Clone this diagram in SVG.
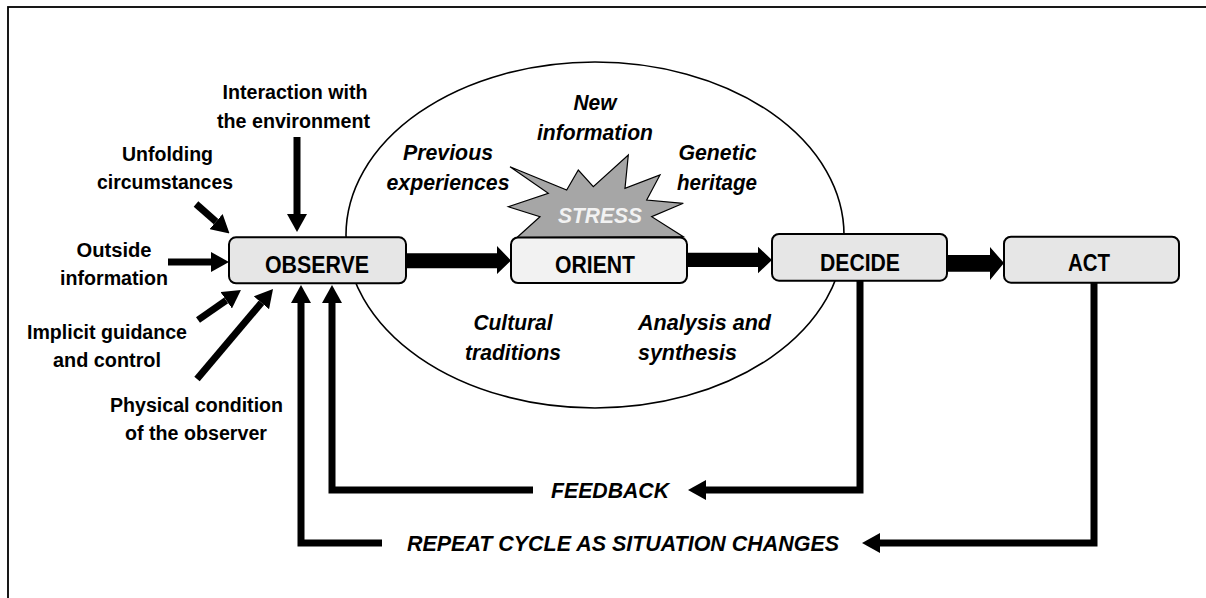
<svg xmlns="http://www.w3.org/2000/svg" width="1206" height="598" viewBox="0 0 1206 598">
<style>
.lbl{font-family:"Liberation Sans",Arial,sans-serif;font-weight:bold;font-size:20px;fill:#000;text-anchor:middle}
.it{font-family:"Liberation Sans",Arial,sans-serif;font-weight:bold;font-style:italic;font-size:22px;fill:#000;text-anchor:middle}
.box{stroke:#000;stroke-width:2}
.bl{font-family:"Liberation Sans",Arial,sans-serif;font-weight:bold;font-size:24px;fill:#000;text-anchor:middle}
.thin{fill:none;stroke:#000;stroke-width:7}
</style>
<defs>
<marker id="ah" viewBox="0 0 18 20" refX="0" refY="10" markerWidth="18" markerHeight="20" markerUnits="userSpaceOnUse" orient="auto">
<path d="M0,0 L18,10 L0,20 z" fill="#000"/>
</marker>
</defs>
<rect x="8" y="7" width="1400" height="800" fill="#fff" stroke="#000" stroke-width="1.8"/>
<g id="orient-ellipse">
<ellipse cx="595" cy="235" rx="249" ry="173" fill="none" stroke="#000" stroke-width="1.6"/>
</g>
<g id="stress">
<polygon points="516.7,237.7 540,216.7 508.3,206.7 548.3,193.3 510,166.7 566.7,190 578.3,170 593.3,186.7 628.3,155 625,188.3 660,175 646.7,200 683.3,203.3 651.7,216.7 683.3,236.7" fill="#a6a6a6" stroke="#000" stroke-width="1.2"/>
<text x="600" y="223" class="it" style="fill:#f2f2f2" textLength="84" lengthAdjust="spacingAndGlyphs">STRESS</text>
</g>
<g id="connectors">
<path class="thin" d="M297,137 V214" marker-end="url(#ah)"/>
<path class="thin" d="M196,204 L216,221.6" marker-end="url(#ah)"/>
<path class="thin" d="M168,262 H211" marker-end="url(#ah)"/>
<path class="thin" d="M198,320 L226.2,300.3" marker-end="url(#ah)"/>
<path class="thin" d="M197,379 L261.4,302.8" marker-end="url(#ah)"/>
<path class="thin" d="M533,490 H332 V303" marker-end="url(#ah)" stroke-linejoin="miter"/>
<path class="thin" d="M382,543 H301 V303" marker-end="url(#ah)"/>
<path class="thin" d="M860,281 V490 H706" marker-end="url(#ah)"/>
<path class="thin" d="M1094,283 V543 H880" marker-end="url(#ah)"/>
<polygon points="406,253.3 497,253.3 497,246 511,260.5 497,274 497,268.3 406,268.3" fill="#000"/>
<polygon points="687,252.7 758,252.7 758,246.7 772,260 758,273.3 758,267 687,267" fill="#000"/>
<polygon points="947,255 990,255 990,247 1004,263 990,280 990,271.7 947,271.7" fill="#000"/>
</g>
<g id="observe">
<rect class="box" x="229" y="237.3" width="177" height="46" rx="7" fill="#e6e6e6"/>
<text class="bl" x="317" y="272.7" textLength="104" lengthAdjust="spacingAndGlyphs">OBSERVE</text>
</g>
<g id="orient">
<rect class="box" x="511" y="237.5" width="176" height="45.5" rx="7" fill="#f2f2f2"/>
<text class="bl" x="595" y="272.7" textLength="80" lengthAdjust="spacingAndGlyphs">ORIENT</text>
</g>
<g id="decide">
<rect class="box" x="772" y="234" width="175" height="46.7" rx="7" fill="#e6e6e6"/>
<text class="bl" x="860" y="270.7" textLength="80" lengthAdjust="spacingAndGlyphs">DECIDE</text>
</g>
<g id="act">
<rect class="box" x="1004" y="236.7" width="175" height="46" rx="7" fill="#e6e6e6"/>
<text class="bl" x="1089" y="270.7" textLength="42" lengthAdjust="spacingAndGlyphs">ACT</text>
</g>
<g id="inputs">
<text class="lbl" x="295" y="99" textLength="145" lengthAdjust="spacingAndGlyphs">Interaction with</text>
<text class="lbl" x="293.5" y="128" textLength="153" lengthAdjust="spacingAndGlyphs">the environment</text>
<text class="lbl" x="167.5" y="161" textLength="91" lengthAdjust="spacingAndGlyphs">Unfolding</text>
<text class="lbl" x="165" y="188.5" textLength="136" lengthAdjust="spacingAndGlyphs">circumstances</text>
<text class="lbl" x="114" y="257" textLength="75" lengthAdjust="spacingAndGlyphs">Outside</text>
<text class="lbl" x="114" y="285" textLength="108" lengthAdjust="spacingAndGlyphs">information</text>
<text class="lbl" x="107" y="338.5" textLength="160" lengthAdjust="spacingAndGlyphs">Implicit guidance</text>
<text class="lbl" x="107" y="367" textLength="108" lengthAdjust="spacingAndGlyphs">and control</text>
<text class="lbl" x="196.5" y="411.5" textLength="173" lengthAdjust="spacingAndGlyphs">Physical condition</text>
<text class="lbl" x="196" y="440" textLength="142" lengthAdjust="spacingAndGlyphs">of the observer</text>
</g>
<g id="orient-factors">
<text class="it" x="595" y="110" textLength="43" lengthAdjust="spacingAndGlyphs">New</text>
<text class="it" x="595" y="140" textLength="116" lengthAdjust="spacingAndGlyphs">information</text>
<text class="it" x="448" y="160" textLength="90" lengthAdjust="spacingAndGlyphs">Previous</text>
<text class="it" x="448" y="190" textLength="123" lengthAdjust="spacingAndGlyphs">experiences</text>
<text class="it" x="717.5" y="160" textLength="78" lengthAdjust="spacingAndGlyphs">Genetic</text>
<text class="it" x="717" y="190" textLength="80" lengthAdjust="spacingAndGlyphs">heritage</text>
<text class="it" x="513" y="330" textLength="79" lengthAdjust="spacingAndGlyphs">Cultural</text>
<text class="it" x="513" y="360" textLength="96" lengthAdjust="spacingAndGlyphs">traditions</text>
<text class="it" x="638" y="330" style="text-anchor:start" textLength="133" lengthAdjust="spacingAndGlyphs">Analysis and</text>
<text class="it" x="638" y="360" style="text-anchor:start" textLength="99" lengthAdjust="spacingAndGlyphs">synthesis</text>
</g>
<g id="loop-labels">
<text class="it" x="610" y="498" textLength="118" lengthAdjust="spacingAndGlyphs">FEEDBACK</text>
<text class="it" x="623" y="551" textLength="432" lengthAdjust="spacingAndGlyphs">REPEAT CYCLE AS SITUATION CHANGES</text>
</g>
</svg>
